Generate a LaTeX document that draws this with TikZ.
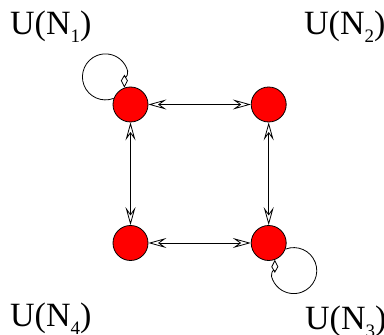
\documentclass[tikz,border=0pt]{standalone}
\usepackage{fontspec}
\setmainfont{Liberation Serif}
\usetikzlibrary{arrows.meta}
\newcommand{\lbl}[1]{U(N\raisebox{-8pt}{\fontsize{19}{19}\selectfont #1})}
\tikzset{
  tip/.tip={Stealth[open, length=18pt, width=10pt, inset=7pt, line width=0.8pt]},
  state/.style={circle, draw=black, fill=red, line width=0.8pt, minimum size=35pt, inner sep=0pt},
  link/.style={line width=0.8pt, {tip}-{tip}},
  selfloop/.style={line width=0.8pt, -{Kite[open, length=13pt, width=7pt, inset=6pt, line width=0.8pt]}},
  lab/.style={anchor=base west, inner sep=0pt, font=\fontsize{34}{34}\selectfont}
}
\begin{document}
\begin{tikzpicture}[x=1pt, y=1pt]
\useasboundingbox (0,0) rectangle (384,335);
\node[state] (n1) at (130.5,230.5) {};
\node[state] (n2) at (268.7,230.5) {};
\node[state] (n3) at (268.7,92) {};
\node[state] (n4) at (130.5,92) {};
\draw[link] (n1) -- (n2);
\draw[link] (n4) -- (n3);
\draw[link] (n1) -- (n4);
\draw[link] (n2) -- (n3);
\draw[selfloop] (n1.160) arc[start angle=-69, end angle=-345, radius=23]
  .. controls +(0,-8) and +(0,10) .. (n1.110);
\draw[selfloop] (n3.-20) arc[start angle=111, end angle=-165, radius=23]
  .. controls +(0,8) and +(0,-10) .. (n3.-70);
\node[lab] (l1) at (10,300) {\lbl{1}};
\node[lab] (l2) at (304,300) {\lbl{2}};
\node[lab] (l3) at (305,5) {\lbl{3}};
\node[lab] (l4) at (10,8) {\lbl{4}};
\end{tikzpicture}
\end{document}
